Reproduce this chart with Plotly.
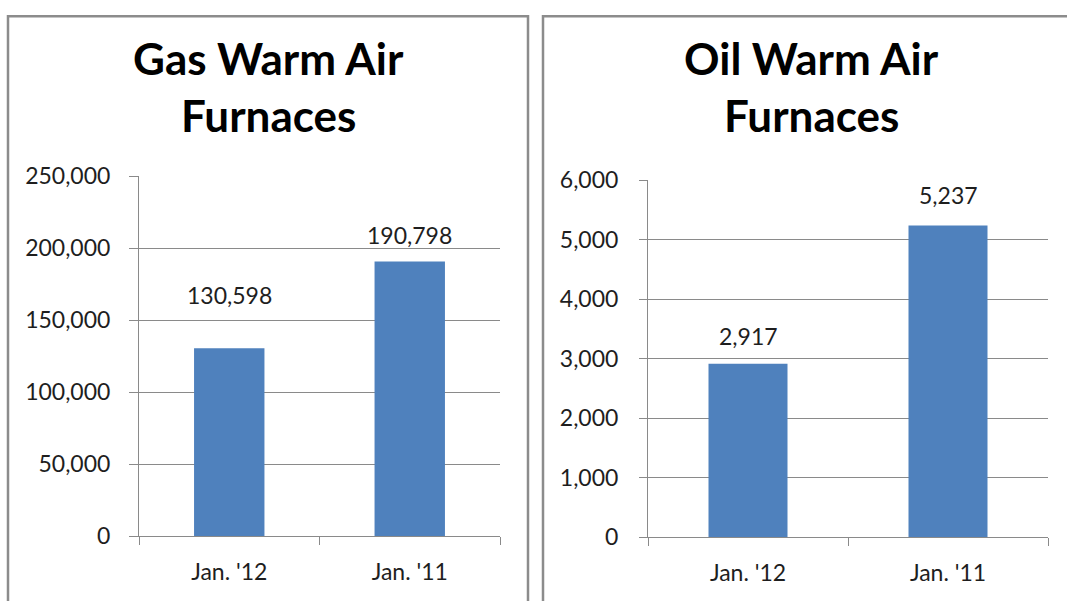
import plotly.graph_objects as go

categories = ["Jan. '12", "Jan. '11"]
gas_values = [130598, 190798]
oil_values = [2917, 5237]
gas_title = ["Gas Warm Air", "Furnaces"]
oil_title = ["Oil Warm Air", "Furnaces"]
gas_ticks = [0, 50000, 100000, 150000, 200000, 250000]
oil_ticks = [0, 1000, 2000, 3000, 4000, 5000, 6000]

W, H = 1067, 601
BAR = "#4F81BD"
GRID = "#8a8a8a"
TXT = "#1e1e1e"
FONT = "Lato"

def px(x):
    return x / W

def py(y):
    # compensate the vertical squeeze of the capture
    y = (y - 9.47) / 0.9749
    y = 300.5 + (y - 300.5) / 0.9725
    return (H - y) / H

fig = go.Figure()
fig.add_trace(go.Bar(x=categories, y=gas_values, marker=dict(color=BAR, line=dict(width=0)),
                     xaxis="x", yaxis="y", width=0.39, hoverinfo="skip"))
fig.add_trace(go.Bar(x=categories, y=oil_values, marker=dict(color=BAR, line=dict(width=0)),
                     xaxis="x2", yaxis="y2", width=0.395, hoverinfo="skip"))

common_y = dict(showgrid=True, gridcolor=GRID, gridwidth=1, showline=True, linecolor=GRID,
                linewidth=1, ticks="outside", tickcolor=GRID, tickformat=",d", zeroline=False,
                tickfont=dict(family=FONT, size=23, color=TXT), fixedrange=True)
common_x = dict(showline=True, linecolor=GRID, linewidth=1, ticks="outside", tickcolor=GRID,
                ticklen=8, tickson="boundaries", showgrid=False,
                tickfont=dict(family=FONT, size=23, color=TXT), fixedrange=True)

fig.update_layout(
    width=W, height=H, margin=dict(l=0, r=0, t=0, b=0),
    paper_bgcolor="white", plot_bgcolor="white", showlegend=False,
    xaxis=dict(domain=[px(139), px(500)], anchor="y", ticklabelstandoff=15, **common_x),
    yaxis=dict(domain=[py(536), py(178)], anchor="x", range=[0, 250000], tickvals=gas_ticks,
               ticklen=9, ticklabelstandoff=14, **common_y),
    xaxis2=dict(domain=[px(648), px(1048)], anchor="y2", ticklabelstandoff=15, **common_x),
    yaxis2=dict(domain=[py(537), py(181.7)], anchor="x2", range=[0, 6000], tickvals=oil_ticks,
                ticklen=8, ticklabelstandoff=16, **common_y),
)

# panel borders
fig.add_shape(type="rect", xref="paper", yref="paper", x0=px(8), x1=px(528), y0=-0.05, y1=0.998,
              line=dict(color="#8c8c8c", width=2.5), layer="above")
fig.add_shape(type="rect", xref="paper", yref="paper", x0=px(543), x1=px(1100), y0=-0.05, y1=0.998,
              line=dict(color="#8c8c8c", width=2.5), layer="above")

# titles
for lines, cx in ((gas_title, 268), (oil_title, 811)):
    for line, cy in zip(lines, (60, 117)):
        fig.add_annotation(text=f"<b>{line}</b>", xref="paper", yref="paper", x=px(cx), y=py(cy),
                           xanchor="center", yanchor="middle", showarrow=False,
                           font=dict(family=FONT, size=44, color="black"))

# data labels
label_shift = {("x", 0): 37, ("x", 1): 11, ("x2", 0): 12, ("x2", 1): 15}
for xa, ya, vals in (("x", "y", gas_values), ("x2", "y2", oil_values)):
    for i, (c, v) in enumerate(zip(categories, vals)):
        fig.add_annotation(text=f"{v:,}", xref=xa, yref=ya, x=c, y=v, yanchor="bottom",
                           yshift=label_shift[(xa, i)], showarrow=False,
                           font=dict(family=FONT, size=23, color=TXT))

fig.write_html("out.html", config={"displayModeBar": False},
               post_script="document.body.style.margin='0';document.body.style.overflow='hidden';")
